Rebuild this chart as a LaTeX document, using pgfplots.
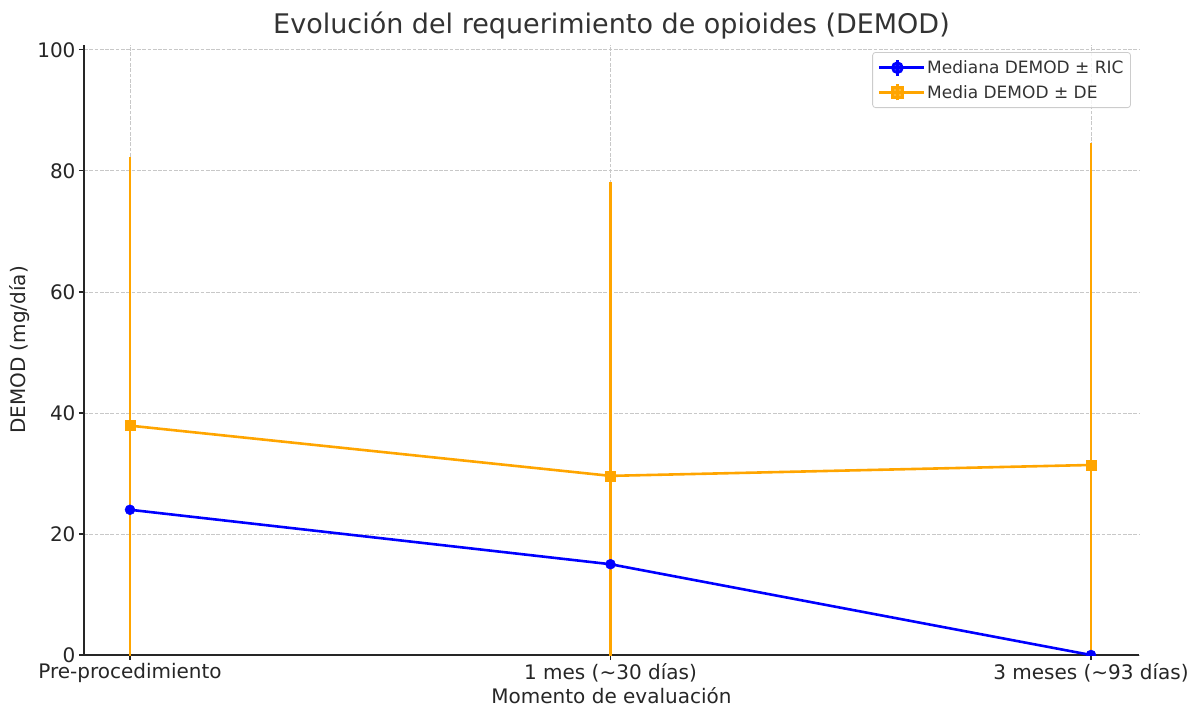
\documentclass[border=0pt]{standalone}
\usepackage{fontspec}
\setmainfont{DejaVu Sans}
\usepackage{pgfplots}
\pgfplotsset{compat=1.18}
\definecolor{mblue}{RGB}{0,0,255}
\definecolor{morange}{RGB}{255,165,0}
\definecolor{txt}{RGB}{38,38,38}
\definecolor{ttl}{RGB}{51,51,51}
\definecolor{gridc}{RGB}{200,200,200}
\definecolor{legc}{RGB}{204,204,204}
\begin{document}
\begin{tikzpicture}
\begin{axis}[
  scale only axis, width=1055pt, height=610pt,
  xmin=-0.0957, xmax=2.0999, ymin=0, ymax=100.8,
  axis x line*=bottom, axis y line*=left,
  axis line style={txt, line width=1.25pt, -},
  xtick={0,1,2},
  xticklabels={Pre-procedimiento, 1 mes (\textasciitilde30 días), 3 meses (\textasciitilde93 días)},
  ytick={0,20,40,60,80,100},
  tick align=outside, major tick length=5pt,
  tick style={txt, line width=1.25pt},
  grid=major,
  major grid style={gridc, line width=0.8pt, dash pattern=on 3.7pt off 1.6pt},
  /pgf/number format/assume math mode=true,
  ticklabel style={font=\fontsize{20}{24}\selectfont, text=txt},
  xlabel={Momento de evaluación},
  ylabel={DEMOD (mg/día)},
  label style={font=\fontsize{20}{24}\selectfont, text=txt},
  xlabel style={at={(axis description cs:0.5,0)}, anchor=base, yshift=-48pt},
  ylabel style={at={(axis description cs:0,0.5)}, anchor=center, yshift=64pt},
  title={Evolución del requerimiento de opioides (DEMOD)},
  title style={font=\fontsize{27}{32}\selectfont, text=ttl, at={(axis description cs:0.5,1)}, anchor=base, yshift=5pt},
  legend style={at={(0.9924,0.9885)}, anchor=north east, draw=legc, rounded corners=3pt,
    fill=white, fill opacity=0.8, text opacity=1, font=\fontsize{17}{20}\selectfont,
    text=ttl, row sep=6pt, inner xsep=5pt, inner ysep=6pt, line width=0.8pt},
  legend cell align=left,
  clip marker paths=true,
]
% orange error bars drawn beneath all data lines
\addplot[forget plot, draw=none, mark=none,
  error bars/.cd, y dir=both, y explicit, error mark=none,
  error bar style={draw=morange, line width=2.6pt}]
  coordinates {(0,37.9) +- (0,44.4) (1,29.6) +- (0,48.6) (2,31.4) +- (0,53.2)};
\addplot[mblue, line width=2.6pt, mark=*, mark size=5pt, mark options={line width=0.4pt},
  legend image code/.code={
    \draw[sharp corners,mblue,line width=2.6pt] (0pt,0pt)--(37pt,0pt);
    \draw[sharp corners,mblue,line width=2.6pt] (18.5pt,-8pt)--(18.5pt,8pt);
    \fill[mblue] (18.5pt,0pt) circle (5pt);
    \path (37pt,0pt)--(45pt,0pt);}]
  coordinates {(0,24.0) (1,15.0) (2,0.0)};
\addlegendentry{Mediana DEMOD ± RIC}
\addplot[morange, line width=2.6pt, mark=square*, mark size=5pt, mark options={line width=0.4pt},
  legend image code/.code={
    \draw[sharp corners,morange,line width=2.6pt] (0pt,0pt)--(37pt,0pt);
    \draw[sharp corners,morange,line width=2.6pt] (18.5pt,-8pt)--(18.5pt,8pt);
    \fill[sharp corners,morange] (13.5pt,-5pt) rectangle (23.5pt,5pt);
    \path (37pt,0pt)--(45pt,0pt);}]
  coordinates {(0,37.9) (1,29.6) (2,31.4)};
\addlegendentry{Media DEMOD ± DE}
\end{axis}
\pgfresetboundingbox
\path (-84pt,-58pt) rectangle (1119pt,655pt);
\end{tikzpicture}
\end{document}
